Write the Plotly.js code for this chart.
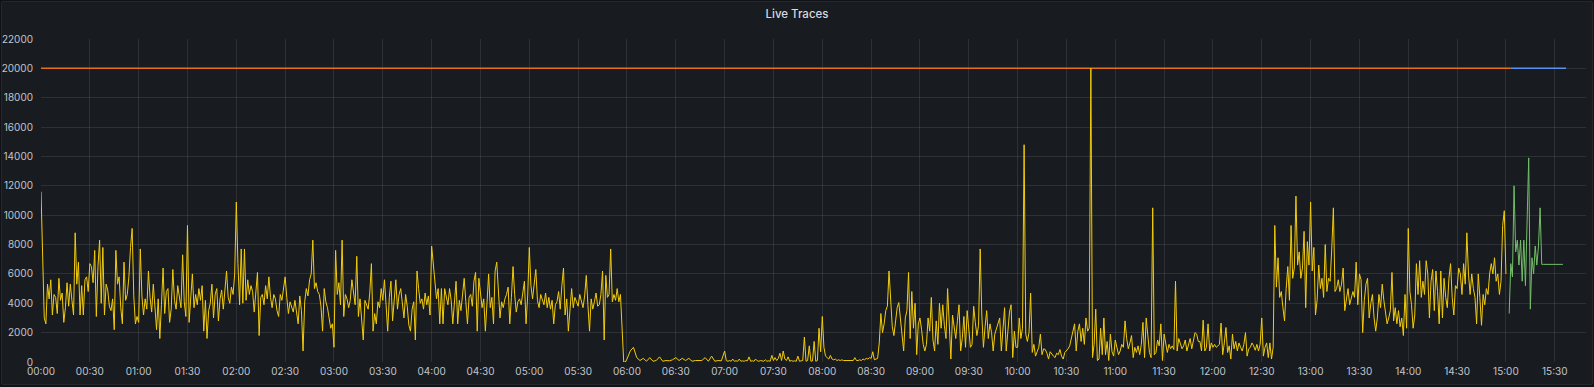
<!DOCTYPE html>
<html>
<head>
<meta charset="utf-8">
<script src="https://cdn.plot.ly/plotly-3.0.1.min.js"></script>
<style>
  html, body { margin: 0; padding: 0; background: #111217; width: 1594px; height: 387px; overflow: hidden; }
  #panel { position: absolute; left: 1px; top: 1px; width: 1590px; height: 382px; background: #181b1f; border: 1px solid #24272c; border-radius: 2px; }
  #chart { position: absolute; left: 0; top: 0; width: 1594px; height: 387px; }
</style>
</head>
<body>
<div id="panel"></div>
<div id="chart"></div>
<script>
// ---- Data ----
// Yellow series: one array per hour; samples are evenly spaced inside the hour
// (60 values = 1-minute samples, 30 values = 2-minute samples)
const h00 = [11600,7000,3000,2600,5300,4300,5600,3200,4600,4400,3300,5700,4200,4700,2700,3700,5400,3800,5300,4200,3200,8800,5300,6800,3200,5200,3200,5600,5800,4800,6700,6500,5400,7600,3100,6500,8300,4000,7800,3200,5300,4900,3800,3500,4300,2200,7600,5300,5800,3700,2600,6800,4200,4600,5800,7800,9100,4500,2600,3100];
const h01 = [2700,7700,4500,3200,4300,3600,6200,4400,3400,5300,3700,2200,4300,1600,3900,6400,3300,4800,5000,2700,3600,6300,4200,3600,5200,4500,3700,7300,4100,3100,9300,2700,4800,6000,3700,4600,3900,5000,4200,5200,2100,4200,1600,3500,4000,5300,3000,4600,5000,2800,4300,4900,3600,5100,6200,4400,4000,5100,4600,6000];
const h02 = [10900,6700,3900,7700,4000,7700,4200,5600,4600,5200,4800,3400,4500,6100,1800,4400,4600,3900,5200,4300,5800,4400,3700,4600,4300,3500,3100,4600,4200,5000,5800,4400,3300,4100,3800,3400,4200,3300,2600,4500,3500,750,4100,5000,4500,5600,6000,8300,5000,5400,4800,4600,3800,2100,5000,4100,3700,3000,2300,2600];
const h03 = [1000,7600,4600,5400,3900,8300,3100,4600,4300,3700,4200,5600,4800,3900,7200,3100,4300,2600,1500,4200,3900,3600,4700,6700,2100,3300,2600,4100,3700,5000,4200,5600,3900,2100,4400,5500,2800,4300,5600,3600,4600,5000,3900,3000,4600,3800,2500,2100,3600,4100,1500,6200,5000,4000,4300,3600,4700,3900,4500,3200];
const h04 = [7900,6700,5000,4300,5000,2600,5000,2600,5000,4400,3900,5000,4200,2600,3900,5500,2600,4200,3500,4600,5700,4100,2600,4400,4600,3800,5500,6100,2100,5700,4500,3700,4300,2100,4000,6000,3700,4400,2600,6200,6800,4700,3000,4100,3700,4300,4600,5100,2600,4400,6500,4600,3400,4100,4300,3900,4600,5500,2600,4500];
const h05 = [7800,5200,4300,5500,6300,4200,3700,4600,4300,3900,4700,3700,4400,3600,4200,2600,3900,4100,4800,3600,5200,6400,3200,4300,2100,3900,5000,3700,4400,4100,3800,4600,4200,3700,4500,5900,3900,2100,4300,3600,4100,4700,3800,3900,4600,6200,1500,5900,4400,4600,7700,4100,4600,4200,5000,4100,4600,2600,0,0];
const h06 = [200,750,1000,300,100,250,50,300,50,100,350,50,100,80,150,300,100,250,100,250,50,100,80,100,300,50,400,50,100,80];
const h07 = [750,100,50,100,50,200,50,80,50,200,50,80,50,100,80,350,50,80,50,200,80,50,100,80,50,150,50,80,50,450,100,300,100,250,600,100,750,200,100,350,50,100,50,80,50,400,50,80,100,1700,50,100,1100,50,80,1400,50,100,2300,700];
const h08 = [3100,1000,400,300,200,450,200,150,200,100,150,100,150,100,100,150,100,100,150,100,300,100,100,150,100,200,150,250,200,300,250,700,150,200,250,1300,3300,2000,2600,3500,3800,6200,3800,2400,1800,2700,3700,4050,2800,2000,750,3000,3500,6100,1600,4800,2300,4000,500,2600];
const h09 = [3000,2200,1200,750,1200,3000,2100,4400,1500,750,2800,1200,4000,2300,3900,2500,1600,5000,2600,200,3200,2200,1600,2800,3900,750,1600,3100,1000,3500,2200,1000,1200,3800,2700,1800,2500,7700,3200,1000,2400,3500,1600,2600,2000,750,1900,2300,2600,3000,750,2300,3700,750,2300,3400,3900,300,2100,1000];
const h10 = [1000,3000,1600,2300,14800,1900,1400,2000,4700,650,1200,400,700,1000,1900,500,900,850,600,200,700,500,400,300,600,500,850,400,200,650,750,900,1100,1600,2300,2600,750,2100,2600,1400,2300,1200,3000,2100,2300,20000,300,1200,3600,100,200,2300,500,3000,500,1400,100,1900,700,400];
const h11 = [1500,1000,500,750,1200,1000,2800,1600,900,1300,1800,300,1000,650,1100,500,1200,2700,300,3000,1600,650,300,10500,500,650,1500,1100,2600,100,1900,1300,650,1200,900,1100,850,5500,750,1600,1300,900,1100,1500,750,1200,1600,900,1400,2000,1900,1400,1400,750,2850,750,1000,2600,750,1300];
const h12 = [1000,1200,1000,1100,1200,2650,500,1300,2350,650,1100,200,1900,900,1400,750,1300,1000,750,1200,2000,400,900,1000,1300,1100,800,1200,750,1200,3000,400,1000,1300,300,1300,200,1000,9300,5100,7100,4400,4800,3700,2800,5000,6500,4200,9300,5700,6400,11300,6600,7500,5700,6400,8900,3700,8200,6600];
const h13 = [10900,6200,7800,3200,4200,6600,5000,5700,4400,8000,4800,5700,5500,7700,10500,4800,5000,5600,4800,5300,6400,3500,4200,5000,3900,4300,4800,4400,6800,3900,6000,5600,2000,4200,5300,5700,3000,4000,4600,3000,2100,3000,4600,3700,5300,4200,3500,2600,3000,3500,6100,2800,3700,2600,3500,2400,3000,1800,4600,2300];
const h14 = [9100,4800,3900,2300,3200,6700,4600,6900,4400,5500,4600,6900,6000,3000,5500,6300,3500,6200,4800,2600,6200,3000,5700,4400,3700,5700,6700,4400,3200,5200,5000,6400,6000,4600,6700,5300,8800,6000,4600,6000,5000,4400,2600,6000,4400,2500,4600,3900,5000,4600,6000,6700,6000,7100,5500,6000,4600,5500,9300,10300];
const h15 = [6000];
const yellowHours = [h00,h01,h02,h03,h04,h05,h06,h07,h08,h09,h10,h11,h12,h13,h14,h15];

// Green series: 1-minute samples starting 15:02
const greenStartMin = 902;
const greenValues = [3300,6700,5800,12000,7500,8300,6600,8300,5500,8300,5200,9000,13900,3600,7100,6000,7900,6600,7900,10500,6650,6650,6650,6650,6650,6650,6650,6650,6650,6650,6650,6650,6650,6650];

// Limit lines (orange then blue) at 20000
const orangeTimesMin = [0, 903];
const orangeValues = [20000, 20000];
const blueTimesMin = [903, 937];
const blueValues = [20000, 20000];

const xRangeMin = [0, 949.2];

// ---- Build ----
function pad(n){ return String(n).padStart(2,'0'); }
function t(min){
  const totalSec = Math.round(min*60);
  const h = Math.floor(totalSec/3600), m = Math.floor((totalSec%3600)/60), s = totalSec%60;
  return '2024-01-01 ' + pad(h) + ':' + pad(m) + ':' + pad(s);
}
const yx = [], yy = [];
yellowHours.forEach((vals, h) => {
  const step = vals.length > 1 ? 60/vals.length : 60;
  vals.forEach((v, i) => { yx.push(t(h*60 + i*step)); yy.push(v); });
});
const gx = greenValues.map((v,i) => t(greenStartMin + i));

const traces = [
  { x: orangeTimesMin.map(t), y: orangeValues, type: 'scatter', mode: 'lines', line: {color: '#E8701A', width: 1.5}, hoverinfo: 'skip' },
  { x: blueTimesMin.map(t), y: blueValues, type: 'scatter', mode: 'lines', line: {color: '#5794F2', width: 1.5}, hoverinfo: 'skip' },
  { x: yx, y: yy, type: 'scatter', mode: 'lines', line: {color: '#F2CC0C', width: 1}, hoverinfo: 'skip' },
  { x: gx, y: greenValues, type: 'scatter', mode: 'lines', line: {color: '#73BF69', width: 1}, hoverinfo: 'skip' }
];

const gridColor = 'rgba(204,204,220,0.12)';
const tickFont = {family: 'Inter, "Noto Sans", sans-serif', size: 10, color: '#c2c5cc'};

const layout = {
  width: 1594, height: 387,
  margin: {l: 41, r: 8, t: 39, b: 25, pad: 0},
  paper_bgcolor: 'rgba(0,0,0,0)',
  plot_bgcolor: 'rgba(0,0,0,0)',
  showlegend: false,
  title: {
    text: 'Live Traces',
    x: 0.5, xanchor: 'center',
    y: 1 - 14/387, yanchor: 'middle',
    font: {family: 'Inter, "Noto Sans", sans-serif', size: 11.5, color: '#d8d9e0', weight: 500}
  },
  xaxis: {
    type: 'date',
    range: xRangeMin.map(t),
    tick0: '2024-01-01 00:00:00',
    dtick: 1800000,
    tickformat: '%H:%M',
    showgrid: true, gridcolor: gridColor, gridwidth: 1,
    zeroline: false, showline: false,
    ticks: '', tickfont: tickFont,
    ticklabelstandoff: 2,
    fixedrange: true
  },
  yaxis: {
    range: [0, 22000],
    tick0: 0, dtick: 2000,
    tickformat: 'd',
    showgrid: true, gridcolor: gridColor, gridwidth: 1,
    zeroline: false, showline: false,
    ticks: '', tickfont: tickFont,
    ticklabelstandoff: 7,
    fixedrange: true
  }
};

Plotly.newPlot('chart', traces, layout, {displayModeBar: false, staticPlot: true});
</script>
</body>
</html>
